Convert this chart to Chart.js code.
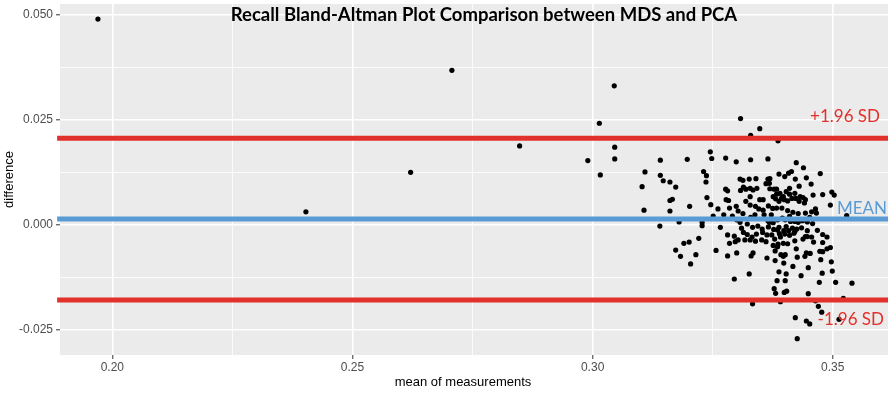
<!DOCTYPE html>
<html><head><meta charset="utf-8">
<script src="https://cdn.jsdelivr.net/npm/chart.js@4/dist/chart.umd.min.js"></script>
<style>html,body{margin:0;padding:0;background:#fff;overflow:hidden}#wrap{width:892px;height:397px;position:relative}</style>
</head><body><div id="wrap"><canvas id="c" width="892" height="397"></canvas></div>
<script>
const meanOfMeasurements = [
0.1970,0.2403,0.2621,0.2707,0.2848,0.3045,
0.3014,0.3308,0.3348,0.3386,0.3329,0.2990,0.3046,0.3046,0.3016,0.3141,
0.3197,0.3245,0.3248,0.3277,0.3299,0.3329,0.3365,0.3109,0.3103,0.3141,
0.3147,0.3161,0.3173,0.3231,0.3237,0.3236,0.3107,0.3161,0.3166,0.3161,
0.3202,0.3238,0.3246,0.3140,0.3180,0.3228,0.3228,0.3251,0.3261,0.3273,
0.3266,0.3285,0.3291,0.3277,0.3281,0.3278,0.3283,0.3299,0.3307,0.3313,
0.3326,0.3340,0.3308,0.3314,0.3319,0.3328,0.3334,0.3342,0.3365,0.3368,
0.3361,0.3369,0.3378,0.3383,0.3388,0.3408,0.3414,0.3424,0.3439,0.3422,
0.3445,0.3455,0.3474,0.3430,0.3410,0.3403,0.3390,0.3397,0.3381,0.3388,
0.3393,0.3399,0.3406,0.3415,0.3423,0.3432,0.3438,0.3443,0.3430,0.3441,
0.3459,0.3479,0.3498,0.3503,0.3495,0.3529,0.3319,0.3328,0.3339,0.3348,
0.3346,0.3355,0.3366,0.3375,0.3383,0.3394,0.3406,0.3417,0.3428,0.3443,
0.3456,0.3464,0.3466,0.3313,0.3303,0.3329,0.3338,0.3357,0.3365,0.3368,
0.3376,0.3385,0.3395,0.3401,0.3412,0.3421,0.3428,0.3437,0.3447,0.3458,
0.3300,0.3307,0.3310,0.3322,0.3333,0.3344,0.3353,0.3366,0.3377,0.3388,
0.3398,0.3408,0.3416,0.3425,0.3435,0.3447,0.3468,0.3479,0.3488,0.3314,
0.3322,0.3332,0.3341,0.3354,0.3363,0.3373,0.3379,0.3389,0.3400,0.3410,
0.3419,0.3443,0.3456,0.3281,0.3295,0.3285,0.3297,0.3303,0.3317,0.3328,
0.3339,0.3352,0.3361,0.3376,0.3386,0.3397,0.3406,0.3421,0.3438,0.3447,
0.3460,0.3479,0.3488,0.3495,0.3473,0.3479,0.3257,0.3281,0.3300,0.3330,
0.3334,0.3363,0.3380,0.3385,0.3392,0.3397,0.3401,0.3424,0.3426,0.3445,
0.3442,0.3453,0.3475,0.3497,0.3380,0.3398,0.3417,0.3388,0.3403,0.3434,
0.3449,0.3478,0.3499,0.3472,0.3506,0.3540,0.3384,0.3401,0.3378,0.3381,
0.3399,0.3404,0.3449,0.3391,0.3333,0.3464,0.3470,0.3477,0.3522,0.3422,
0.3445,0.3452,0.3513,0.3426,0.3326,0.3295,0.3173,0.3183,0.3190,0.3201,
0.3204,0.3215,0.3221,
0.3376,0.3383,0.3410,0.3421,0.3385,0.3403,0.3421,0.3391,0.3372,0.3410,
0.3452,0.3355,0.3328,0.3400,0.3369
];
const difference = [
0.0490,0.0031,0.0125,0.0368,0.0188,0.0331,
0.0242,0.0253,0.0229,0.0200,0.0213,0.0153,0.0185,0.0157,0.0119,0.0154,
0.0156,0.0174,0.0158,0.0159,0.0150,0.0155,0.0157,0.0126,0.0091,0.0118,
0.0105,0.0102,0.0090,0.0127,0.0117,0.0102,0.0035,0.0058,0.0061,0.0033,
0.0044,0.0065,0.0048,-0.0003,0.0007,0.0006,-0.0002,0.0021,0.0038,0.0024,
-0.0006,0.0040,0.0021,0.0085,0.0081,0.0060,0.0058,0.0044,0.0109,0.0106,
0.0109,0.0110,0.0082,0.0090,0.0085,0.0087,0.0083,0.0087,0.0109,0.0099,
0.0098,0.0086,0.0085,0.0085,0.0121,0.0123,0.0127,0.0148,0.0136,0.0109,
0.0112,0.0097,0.0122,0.0092,0.0087,0.0079,0.0075,0.0067,0.0062,0.0056,
0.0063,0.0060,0.0057,0.0063,0.0063,0.0067,0.0065,0.0060,0.0056,0.0052,
0.0071,0.0072,0.0078,0.0071,0.0047,0.0022,0.0056,0.0047,0.0044,0.0060,
0.0038,0.0035,0.0045,0.0039,0.0040,0.0040,0.0034,0.0030,0.0027,0.0028,
0.0031,0.0038,0.0028,0.0027,0.0033,0.0018,0.0024,0.0024,0.0010,0.0006,
0.0005,0.0012,0.0016,0.0012,0.0008,0.0008,0.0006,0.0010,0.0007,0.0003,
0.0012,0.0006,-0.0008,0.0002,-0.0006,-0.0003,-0.0010,-0.0005,-0.0011,-0.0006,
-0.0014,-0.0014,-0.0008,-0.0010,-0.0007,-0.0014,-0.0013,-0.0023,-0.0029,-0.0018,
-0.0023,-0.0029,-0.0022,-0.0018,-0.0024,-0.0024,-0.0034,-0.0021,-0.0022,-0.0025,
-0.0020,-0.0028,-0.0029,-0.0024,-0.0027,-0.0044,-0.0040,-0.0036,-0.0036,-0.0036,
-0.0039,-0.0036,-0.0040,-0.0049,-0.0046,-0.0044,-0.0045,-0.0038,-0.0034,-0.0028,
-0.0041,-0.0042,-0.0057,-0.0054,-0.0063,-0.0064,-0.0061,-0.0074,-0.0067,-0.0074,
-0.0067,-0.0079,-0.0062,-0.0052,-0.0071,-0.0075,-0.0071,-0.0057,-0.0077,-0.0067,
-0.0075,-0.0068,-0.0083,-0.0088,-0.0085,-0.0091,-0.0099,-0.0112,-0.0117,-0.0121,
-0.0102,-0.0115,-0.0110,-0.0137,-0.0137,-0.0139,-0.0133,-0.0133,-0.0152,-0.0163,
-0.0161,-0.0158,-0.0164,-0.0183,-0.0188,-0.0181,-0.0194,-0.0208,-0.0175,-0.0221,
-0.0229,-0.0236,-0.0225,-0.0271,-0.0117,-0.0129,-0.0060,-0.0075,-0.0044,-0.0041,
-0.0093,-0.0071,-0.0032,
0.0067,0.0073,0.0073,0.0075,-0.0012,-0.0004,-0.0016,-0.0029,0.0024,0.0020,
0.0018,0.0060,0.0067,0.0115,0.0110
];
const limitLabels = ['+1.96 SD', 'MEAN', '-1.96 SD'];
const limitValues = [0.0206, 0.0014, -0.0179];
const xTickValues = [0.20, 0.225, 0.25, 0.275, 0.30, 0.325, 0.35];
const xTickLabels = ['0.20', '', '0.25', '', '0.30', '', '0.35'];
const yTickValues = [-0.025, -0.0125, 0, 0.0125, 0.025, 0.0375, 0.05];
const yTickLabels = ['-0.025', '', '0.000', '', '0.025', '', '0.050'];
const xRange = [0.1891, 0.3615];
const yRange = [-0.0310, 0.0526];
const lineSpan = [0.1885, 0.3615];
const chartTitle = 'Recall Bland-Altman Plot Comparison between MDS and PCA';
const xTitle = 'mean of measurements';
const yTitle = 'difference';

const RED = '#E2302A', BLUE = '#5B9BD5';
const limitColors = [RED, BLUE, RED];

Chart.defaults.font.family = '"Liberation Sans", Arial, sans-serif';
Chart.defaults.animation = false;

const points = meanOfMeasurements.map((x, i) => ({x, y: difference[i]}));
const lineSets = limitValues.map((v, i) => ({
  type: 'line',
  data: [{x: lineSpan[0], y: v}, {x: lineSpan[1], y: v}],
  borderColor: limitColors[i],
  borderWidth: 5,
  pointRadius: 0,
  clip: false,
  order: 0
}));

const decor = {
  id: 'decor',
  beforeDraw(chart) {
    const {ctx, chartArea: a} = chart;
    ctx.save();
    ctx.fillStyle = '#EBEBEB';
    ctx.fillRect(a.left, a.top, a.right - a.left, a.bottom - a.top);
    ctx.restore();
  },
  afterDraw(chart) {
    const {ctx, chartArea: a, scales} = chart;
    ctx.save();
    ctx.fillStyle = '#000';
    ctx.font = 'bold 18.5px Lato, "Open Sans", sans-serif';
    ctx.textAlign = 'center';
    ctx.textBaseline = 'alphabetic';
    ctx.fillText(chartTitle, 484, 21);
    ctx.font = '13px "Liberation Sans", Arial, sans-serif';
    ctx.textBaseline = 'middle';
    ctx.fillText(xTitle, 463, 382);
    ctx.font = '17px Lato, "Open Sans", sans-serif';
    ctx.textBaseline = 'alphabetic';
    const yU = scales.y.getPixelForValue(limitValues[0]);
    const yM = scales.y.getPixelForValue(limitValues[1]);
    const yL = scales.y.getPixelForValue(limitValues[2]);
    ctx.fillStyle = RED;
    ctx.textAlign = 'right';
    ctx.fillText(limitLabels[0], a.right - 8, yU - 16.5);
    ctx.fillText(limitLabels[2], a.right - 4, yL + 25);
    ctx.fillStyle = BLUE;
    ctx.textAlign = 'left';
    ctx.fillText(limitLabels[1], a.right - 51, yM - 5);
    ctx.restore();
  }
};

new Chart(document.getElementById('c'), {
  type: 'scatter',
  data: {
    datasets: [
      ...lineSets,
      {
        type: 'scatter',
        data: points,
        backgroundColor: '#000',
        borderWidth: 0,
        pointRadius: 2.6,
        order: 1
      }
    ]
  },
  options: {
    responsive: false,
    devicePixelRatio: 1,
    layout: {padding: {top: 4, right: 0, left: 0, bottom: 0}},
    plugins: {legend: {display: false}, tooltip: {enabled: false}},
    scales: {
      x: {
        type: 'linear', min: xRange[0], max: xRange[1],
        afterBuildTicks: s => { s.ticks = xTickValues.map(v => ({value: v})); },
        afterFit: s => { s.height = 42; s.paddingLeft = 0; s.paddingRight = 0; },
        border: {display: false},
        grid: {
          color: '#FFFFFF',
          lineWidth: c => xTickLabels[c.index] ? 1.6 : 0.8,
          tickColor: c => xTickLabels[c.index] ? '#333333' : 'rgba(0,0,0,0)',
          tickLength: 4, tickWidth: 1
        },
        ticks: {
          autoSkip: false, maxRotation: 0, padding: 1,
          color: '#4D4D4D', font: {size: 12},
          callback: (v, i) => xTickLabels[i]
        }
      },
      y: {
        type: 'linear', min: yRange[0], max: yRange[1],
        afterBuildTicks: s => { s.ticks = yTickValues.map(v => ({value: v})); },
        afterFit: s => { s.width = 60; s.paddingTop = 0; s.paddingBottom = 0; },
        border: {display: false},
        grid: {
          color: '#FFFFFF',
          lineWidth: c => yTickLabels[c.index] ? 1.6 : 0.8,
          tickColor: c => yTickLabels[c.index] ? '#333333' : 'rgba(0,0,0,0)',
          tickLength: 4, tickWidth: 1
        },
        ticks: {
          autoSkip: false, padding: 3,
          color: '#4D4D4D', font: {size: 12},
          callback: (v, i) => yTickLabels[i]
        },
        title: {display: true, text: yTitle, color: '#000', font: {size: 13}, padding: {top: 2, bottom: 0}}
      }
    }
  },
  plugins: [decor]
});
</script></body></html>
